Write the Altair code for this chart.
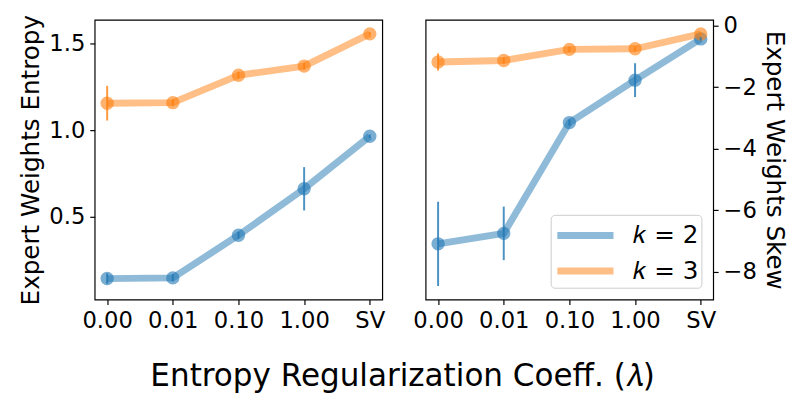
import altair as alt
import pandas as pd

categories = ["0.00", "0.01", "0.10", "1.00", "SV"]
series_names = ["𝑘 = 2", "𝑘 = 3"]
series_colors = ["#1f77b4", "#ff7f0e"]

entropy_k2 = [0.145, 0.149, 0.395, 0.663, 0.966]
entropy_k2_err = [0.03, 0.02, 0.02, 0.125, 0.01]
entropy_k3 = [1.157, 1.160, 1.318, 1.371, 1.557]
entropy_k3_err = [0.10, 0.02, 0.02, 0.02, 0.01]

skew_k2 = [-7.09, -6.75, -3.15, -1.77, -0.43]
skew_k2_err = [1.37, 0.87, 0.10, 0.55, 0.05]
skew_k3 = [-1.18, -1.13, -0.77, -0.75, -0.27]
skew_k3_err = [0.28, 0.10, 0.08, 0.08, 0.05]

FONT = "DejaVu Sans"


def make_df(v2, e2, v3, e3):
    rows = []
    for name, vals, errs in [(series_names[0], v2, e2), (series_names[1], v3, e3)]:
        for c, v, e in zip(categories, vals, errs):
            rows.append({"coef": c, "k": name, "val": v, "lo": v - e, "hi": v + e})
    return pd.DataFrame(rows)


def panel(df, ytitle, domain, ticks, fmt, orient, show_legend):
    color_scale = alt.Scale(domain=series_names, range=series_colors)
    x = alt.X("coef:N", sort=categories,
              scale=alt.Scale(type="point", padding=0.19),
              axis=alt.Axis(title=None, labelAngle=0))
    y_axis = alt.Axis(title=ytitle, orient=orient, values=ticks, format=fmt,
                      titlePadding=5)
    yscale = alt.Scale(domain=domain, nice=False, zero=False)
    y = alt.Y("val:Q", scale=yscale, axis=y_axis)
    if show_legend:
        leg = alt.Legend(title=None, orient="bottom-right", offset=12,
                         symbolType="M-1,0H3", symbolStrokeWidth=7,
                         symbolSize=812, symbolOpacity=0.5,
                         labelFontSize=25, labelFont=FONT, labelOffset=45,
                         labelColor="black",
                         rowPadding=4, padding=3, strokeColor="#cccccc",
                         fillColor="white", cornerRadius=4)
    else:
        leg = None
    base = alt.Chart(df)
    line = base.mark_line(strokeWidth=7, opacity=0.5).encode(
        x=x, y=y, color=alt.Color("k:N", scale=color_scale, legend=leg))
    pts = base.mark_circle(size=185, opacity=0.6).encode(
        x=x, y=y, color=alt.Color("k:N", scale=color_scale, legend=None))
    err = base.mark_rule(strokeWidth=2, opacity=0.8).encode(
        x=x, y=alt.Y("lo:Q", scale=yscale, axis=y_axis),
        y2="hi:Q",
        color=alt.Color("k:N", scale=color_scale, legend=None))
    return alt.layer(line, pts, err).properties(width=292, height=284)


left = panel(make_df(entropy_k2, entropy_k2_err, entropy_k3, entropy_k3_err),
             "Expert Weights Entropy", [0.024, 1.638], [0.5, 1.0, 1.5], ".1f",
             "left", False)
right = panel(make_df(skew_k2, skew_k2_err, skew_k3, skew_k3_err),
              "Expert Weights Skew", [-8.9, 0.19], [0, -2, -4, -6, -8], "d",
              "right", True)

chart = alt.hconcat(left, right, spacing=26).resolve_scale(
    color="independent", y="independent"
).resolve_legend(color="independent").properties(
    title=alt.TitleParams("Entropy Regularization Coeff. (𝜆)", orient="bottom",
                          anchor="middle", fontSize=31.5, font=FONT,
                          fontWeight="normal", color="black", offset=29),
    padding={"left": 10, "top": 2, "right": 5, "bottom": 5},
).configure_view(stroke="black", strokeWidth=1.2).configure_axis(
    labelFont=FONT, titleFont=FONT, labelFontSize=23, titleFontSize=25,
    titleFontWeight="normal", labelColor="black", titleColor="black",
    tickColor="black", tickSize=5, tickWidth=1.2, domain=False, grid=False,
    labelPadding=5,
)

chart.save("out.html", embed_options={"renderer": "svg", "actions": False})
